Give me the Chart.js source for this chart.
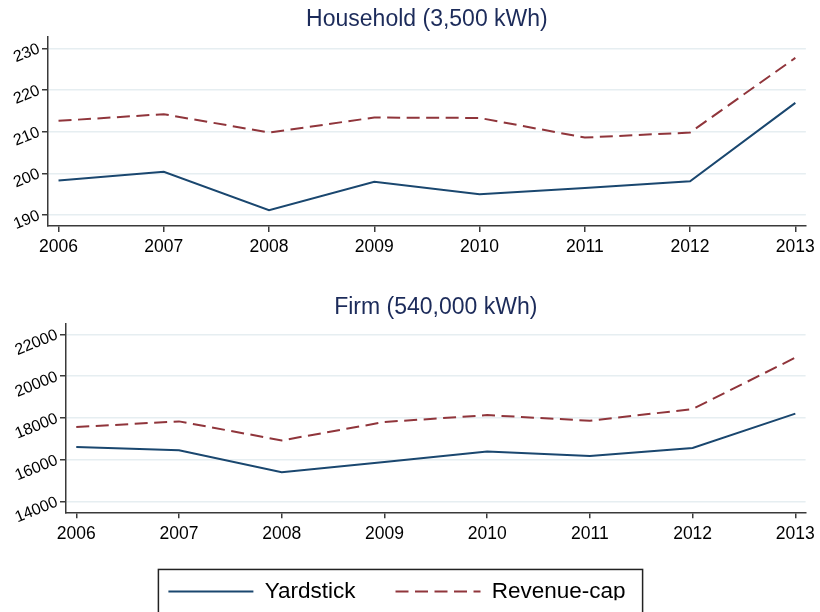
<!DOCTYPE html>
<html>
<head>
<meta charset="utf-8">
<script src="https://cdn.jsdelivr.net/npm/chart.js@4"></script>
<style>
  body { margin: 0; background: #fff; }
  #wrap { position: relative; width: 820px; height: 612px; overflow: hidden; }
  canvas { position: absolute; left: 0; }
  #householdChart { top: 0; }
  #firmChart { top: 285px; }
</style>
</head>
<body>
<div id="wrap">
  <canvas id="householdChart" width="820" height="275"></canvas>
  <canvas id="firmChart" width="820" height="327"></canvas>
</div>
<script>
const years = [2006, 2007, 2008, 2009, 2010, 2011, 2012, 2013];
const householdYardstick = [198.3, 200.4, 191.2, 198.0, 195.0, 196.5, 198.1, 216.9];
const householdRevenueCap = [212.6, 214.2, 209.8, 213.4, 213.3, 208.6, 209.8, 227.7];
const firmYardstick = [16610, 16460, 15410, 15900, 16400, 16180, 16570, 18210];
const firmRevenueCap = [17570, 17840, 16930, 17810, 18140, 17870, 18430, 20890];
const householdTicks = [190, 200, 210, 220, 230];
const firmTicks = [14000, 16000, 18000, 20000, 22000];
const seriesNames = ["Yardstick", "Revenue-cap"];

const navy = "#1a476f";
const maroon = "#90353b";
const gridColor = "#e6eef1";
const axisColor = "#3a3a3a";
const dash = [13, 6.5];

Chart.defaults.font.family = "'Liberation Sans', Arial, sans-serif";
Chart.defaults.color = "#000";
Chart.defaults.animation = false;

const toPoints = (vals) => vals.map((v, i) => ({ x: years[i], y: v }));

const makeDatasets = (yard, rev) => [
  {
    label: seriesNames[0],
    data: toPoints(yard),
    borderColor: navy,
    backgroundColor: navy,
    borderWidth: 2,
    pointRadius: 0,
    tension: 0,
  },
  {
    label: seriesNames[1],
    data: toPoints(rev),
    borderColor: maroon,
    backgroundColor: maroon,
    borderWidth: 2,
    borderDash: dash,
    pointRadius: 0,
    tension: 0,
  },
];

const makeScales = (ticks, yMin, yMax, yWidth, xHeight) => ({
  x: {
    type: "linear",
    min: 2005.9,
    max: 2013.1,
    afterBuildTicks: (scale) => {
      scale.ticks = years.map((v) => ({ value: v }));
    },
    afterFit: (scale) => {
      scale.height = xHeight;
    },
    ticks: {
      callback: (v) => String(v),
      font: { size: 17.5 },
      padding: 5,
      maxRotation: 0,
      minRotation: 0,
    },
    grid: {
      color: "rgba(0,0,0,0)",
      tickColor: axisColor,
      tickLength: 6,
      lineWidth: 1.5,
    },
    border: { display: true, color: axisColor, width: 1.5 },
  },
  y: {
    min: yMin,
    max: yMax,
    afterBuildTicks: (scale) => {
      scale.ticks = ticks.map((v) => ({ value: v }));
    },
    afterFit: (scale) => {
      scale.width = yWidth;
    },
    ticks: {
      callback: (v) => String(v),
      font: { size: 16 },
      minRotation: 22,
      maxRotation: 22,
      padding: 3,
    },
    grid: {
      color: gridColor,
      lineWidth: 1.5,
      tickColor: axisColor,
      tickLength: 6,
    },
    border: { display: true, color: axisColor, width: 1.5 },
  },
});

const makeTitle = (text, top, bottom) => ({
  display: true,
  text: text,
  color: "#1c2b5a",
  fullSize: false,
  font: { size: 23, weight: "normal", lineHeight: 1.2 },
  padding: { top: top, bottom: bottom },
});

// boxed key under the panels
const legendPad = 40;
const legendFont = 22.5;
const legendFrame = {
  id: "legendFrame",
  afterLayout(chart) {
    const lg = chart.legend;
    if (!lg || !chart.options.plugins.legend.display) return;
    lg.left -= 7;
    lg.right -= 7;
    const h = lg.height;
    lg.top = 308.7 - legendPad - (legendFont * 1.2) / 2;
    lg.bottom = lg.top + h;
  },
  afterDraw(chart) {
    const lg = chart.legend;
    if (!lg || !lg.legendHitBoxes || !lg.legendHitBoxes.length) return;
    const boxes = lg.legendHitBoxes;
    const first = boxes[0];
    const last = boxes[boxes.length - 1];
    const ctx = chart.ctx;
    const cy = first.top + first.height / 2;
    ctx.save();
    ctx.strokeStyle = "#222";
    ctx.lineWidth = 1.5;
    ctx.strokeRect(first.left - 10, cy - 22, last.left + last.width - first.left + 27, chart.height);
    ctx.restore();
  },
};

let householdChart;
let firmChart;

const addHouseholdChart = () => {
  let ctx = document.getElementById("householdChart").getContext("2d");
  householdChart = new Chart(ctx, {
    type: "line",
    data: { datasets: makeDatasets(householdYardstick, householdRevenueCap) },
    options: {
      responsive: false,
      devicePixelRatio: 1,
      layout: { padding: { left: 0, right: 13, top: 0, bottom: 0 } },
      plugins: {
        legend: { display: false },
        tooltip: { enabled: false },
        title: makeTitle("Household (3,500 kWh)", 6.2, 3.2),
      },
      scales: makeScales(householdTicks, 187.4, 232.7, 48, 49),
    },
  });
};

const addFirmChart = () => {
  let ctx = document.getElementById("firmChart").getContext("2d");
  firmChart = new Chart(ctx, {
    type: "line",
    data: { datasets: makeDatasets(firmYardstick, firmRevenueCap) },
    plugins: [legendFrame],
    options: {
      responsive: false,
      devicePixelRatio: 1,
      layout: { padding: { left: 0, right: 12, top: 0, bottom: 0 } },
      plugins: {
        legend: {
          display: true,
          position: "bottom",
          maxHeight: 60,
          labels: {
            usePointStyle: true,
            pointStyle: "line",
            pointStyleWidth: 85,
            font: { size: legendFont, lineHeight: 1.2 },
            color: "#000",
            padding: legendPad,
            generateLabels: (chart) => {
              const items = Chart.defaults.plugins.legend.labels.generateLabels(chart);
              return items.map((item, i) => {
                const ds = chart.data.datasets[i];
                item.lineDash = ds.borderDash || [];
                item.lineWidth = ds.borderWidth;
                item.strokeStyle = ds.borderColor;
                item.pointStyle = "line";
                return item;
              });
            },
          },
        },
        tooltip: { enabled: false },
        title: makeTitle("Firm (540,000 kWh)", 9.2, 2.4),
      },
      scales: makeScales(firmTicks, 13490, 22490, 66, 327 - 227.3 - 60),
    },
  });
};

addHouseholdChart();
addFirmChart();
</script>
</body>
</html>
